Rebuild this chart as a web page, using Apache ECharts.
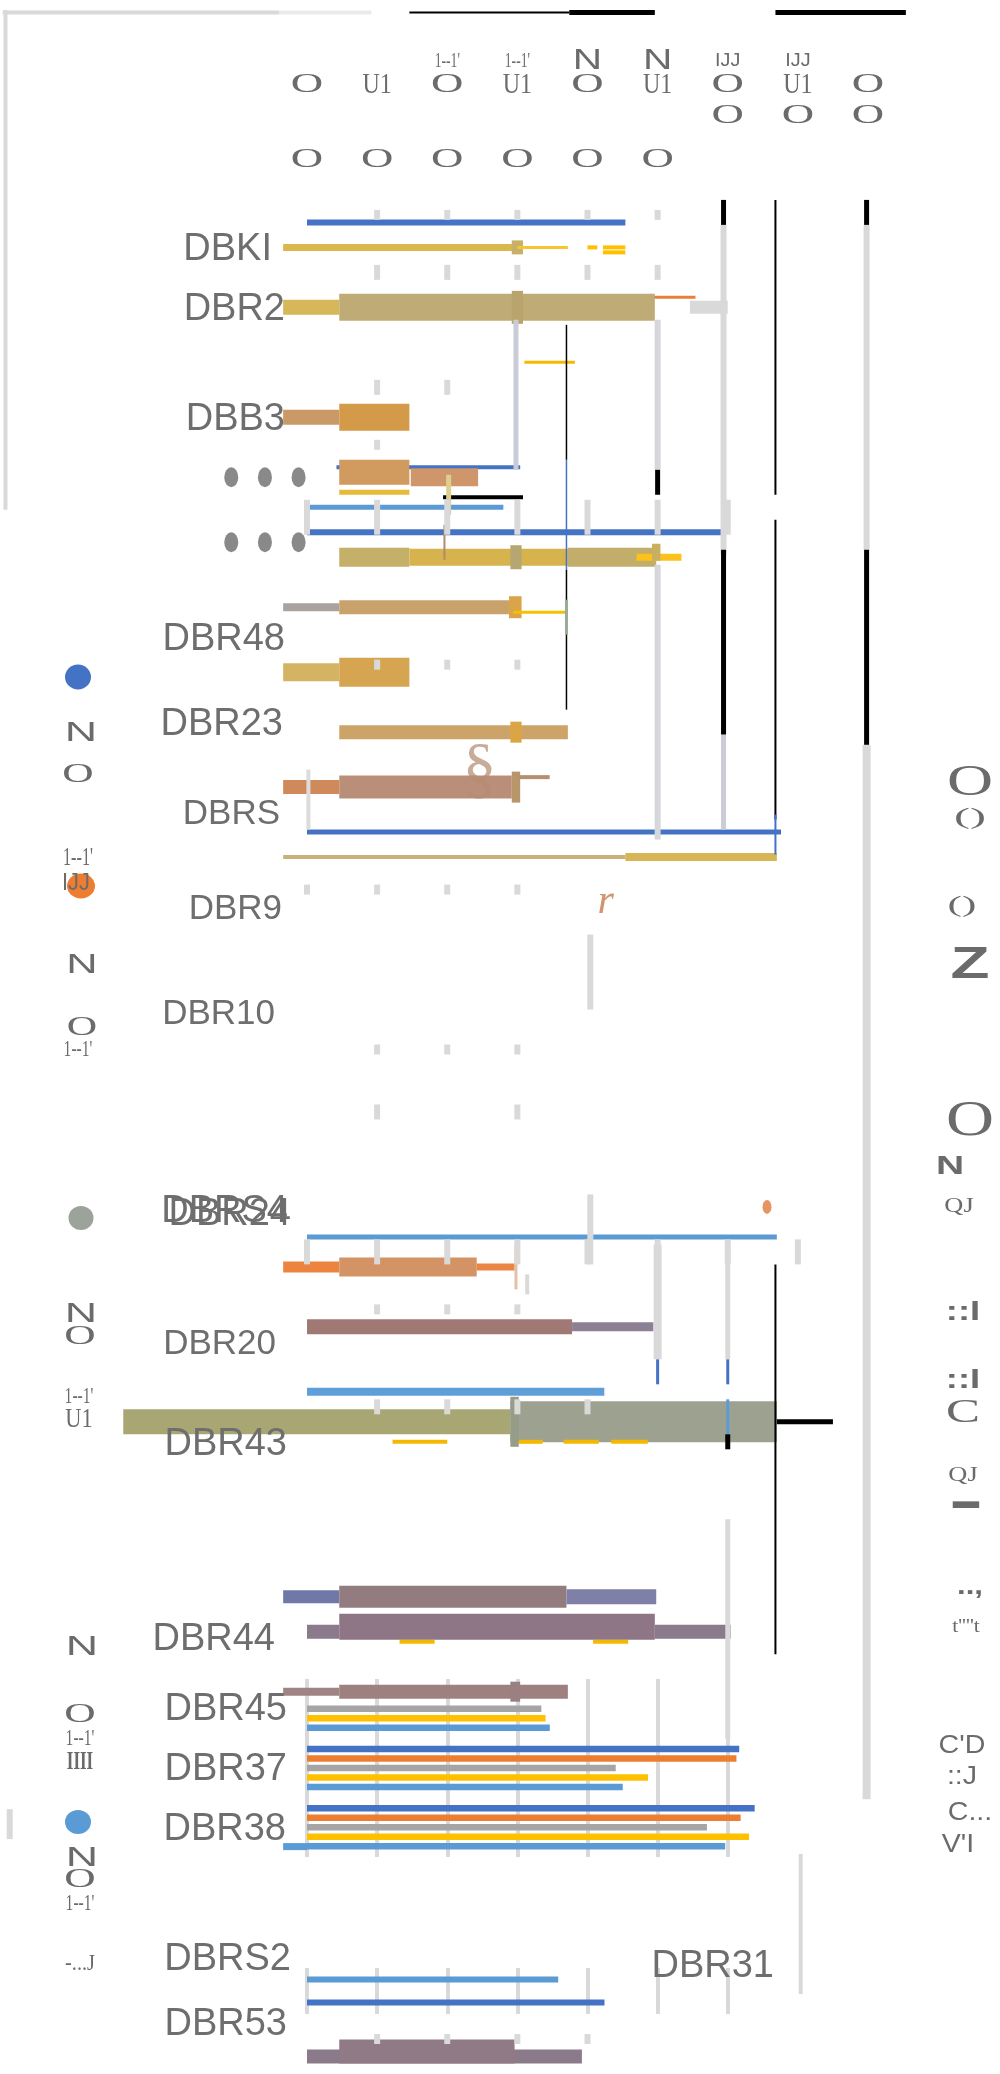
<!DOCTYPE html>
<html>
<head>
<meta charset="utf-8">
<script src="https://cdn.jsdelivr.net/npm/echarts@6/dist/echarts.min.js"></script>
<style>
  html, body { margin: 0; padding: 0; background: #fff; overflow: hidden; }
  #main { width: 1000px; height: 2074px; }
</style>
</head>
<body>
<div id="main"></div>
<script>
// ---- axis ticks along the top (value axis 0..400) ----
var ticks = [0, 50, 100, 150, 200, 250, 300, 350, 400];
var tickRowA = ['', '', "1--1'", "1--1'", 'N', 'N', 'IJJ', 'IJJ', ''];
var tickRowB = ['O', 'U1', 'O', 'U1', 'O', 'U1', 'O', 'U1', 'O'];
var tickRowC = ['', '', '', '', '', '', 'O', 'O', 'O'];
var tickRowD = ['O', 'O', 'O', 'O', 'O', 'O', '', '', ''];

// ---- row labels of the big chart (row = slot on the category axis) ----
var ROWS = 415;
var rowLabels = ['DBKI', 'DBR2', 'DBB3', 'DBR48', 'DBR23', 'DBRS', 'DBR9', 'DBR10', 'DBR24', 'DBR20', 'DBR43', 'DBR44', 'DBR45', 'DBR37', 'DBR38', 'DBRS2', 'DBR53'];
var labelRows = [49, 61, 83, 127, 144, 162, 181, 202, 242, 268, 288, 327, 341, 353, 365, 391, 404];
// how far each label sits left of the common edge (px), and its size
var labelNudge = [15, 2, 2, 2, 4, 7, 5, 12, -4, 11, 0, 12, 0, 0, 1, -4, 0];
var labelSize = [38, 38, 38, 38, 38, 35, 35, 35, 38, 35, 38, 38, 38, 38, 38, 38, 38];

// ---- spans: [row, from, to] in axis units ----
var spans = [
  [2, -217, -20], [2, -20, 46], [2, 73, 187], [2, 187, 248], [2, 334, 427],
  [44, 0, 227], [49, -17, 149], [49, 146, 154], [49, 150, 186], [49, 200, 207], [49, 211, 227], [50, 211, 227],
  [59, 245, 277], [61, -17, 23], [61, 23, 248], [61, 146, 154], [61, 273, 300], [72, 155, 191],
  [83, -17, 23], [83, 23, 73],
  [93, 21, 152], [94, 23, 73], [95, 74, 122], [98, 23, 73], [99, 97, 154], [101, 0, 140], [106, 0, 296],
  [111, 23, 73], [111, 73, 186], [111, 186, 249], [111, 145, 153], [111, 235, 267], [110, 246, 252],
  [121, -17, 23], [121, 23, 144], [121, 144, 153], [122, 147, 185],
  [134, -17, 23], [134, 23, 73],
  [146, 23, 186], [146, 145, 153],
  [157, -17, 23], [157, 23, 146], [157, 146, 152], [155, 151, 173],
  [166, 0, 338], [171, -17, 227], [171, 227, 335],
  [247, 0, 335], [253, -17, 23], [253, 23, 121], [253, 121, 148],
  [265, 0, 189], [265, 189, 247], [278, 0, 212],
  [284, -131, 145], [284, 145, 335], [284, 145, 151], [284, 335, 375],
  [288, 61, 100], [288, 151, 168], [288, 183, 208], [288, 217, 243],
  [319, -17, 23], [319, 23, 185], [319, 185, 249],
  [328, 66, 91], [328, 204, 229], [326, 0, 23], [326, 248, 302], [325, 23, 248],
  [338, -17, 23], [338, 23, 186], [338, 145, 152],
  [369, -17, 0],
  [411, 0, 196], [410, 23, 148]
];
// colour and thickness (px) for each span, same order
var spanLook = [
  ['#d9d9d9', 4], ['#ebebeb', 4], ['#000', 2], ['#000', 5], ['#000', 5],
  ['#4472c4', 6], ['#d9b84e', 7], ['#c8b068', 14], ['#f7c531', 3], ['#ffc000', 4], ['#ffc000', 4], ['#ffc000', 4],
  ['#e8803a', 3], ['#d6b85a', 15], ['#bfab76', 27], ['#b9a46d', 33], ['#d9d9d9', 13], ['#f5b800', 3],
  ['#c99a66', 15], ['#d39a4a', 27],
  ['#4472c4', 4], ['#d19a5e', 25], ['#cf956b', 18], ['#e9b93a', 5], ['#000', 4], ['#5b9bd5', 5], ['#4472c4', 6],
  ['#c4b068', 19], ['#d6b34c', 17], ['#c2ad6a', 19], ['#b5a672', 24], ['#fbc21b', 7], ['#c8b060', 17],
  ['#a8a39e', 8], ['#c8a26a', 14], ['#d9a44a', 22], ['#f5c000', 3],
  ['#d4b463', 18], ['#d6a552', 29],
  ['#cda468', 14], ['#dba545', 21],
  ['#d0895a', 14], ['#b98f7a', 23], ['#b9966a', 31], ['#b58f72', 4],
  ['#4472c4', 5], ['#c8b27a', 4], ['#d6b556', 8],
  ['#5b9bd5', 5], ['#ec8440', 11], ['#d49364', 19], ['#ea8544', 7],
  ['#a07874', 15], ['#8b8094', 9], ['#5f9fd8', 8],
  ['#a8a673', 25], ['#9ca28f', 41], ['#959c88', 50], ['#000', 5],
  ['#f5b800', 4], ['#f5b800', 4], ['#f5b800', 4], ['#f5b800', 4],
  ['#7078a8', 13], ['#937c80', 22], ['#7f80a8', 15],
  ['#f5b800', 4], ['#f5b800', 4], ['#8a7a8c', 14], ['#8a7a8c', 14], ['#8f7686', 26],
  ['#a08384', 8], ['#9f8081', 14], ['#9a8080', 20],
  ['#5b9bd5', 7],
  ['#8b7a8a', 14], ['#8f7a86', 24]
];

// ---- posts: [value, fromRow, toRow] vertical strokes ----
var posts = [
  [-215, 2, 101], [-212, 362, 367],
  [297, 40, 44], [399, 40, 44], [297, 45, 110], [399, 45, 109], [297, 110, 146], [399, 110, 149],
  [297, 147, 165], [399, 149, 359],
  [334, 40, 98], [334, 104, 163], [334, 163, 170], [334, 253, 330],
  [250, 64, 93], [250, 94, 98], [250, 113, 167], [149, 64, 93],
  [185, 65, 91], [185, 92, 113], [185, 114, 141],
  [101, 95, 102], [98, 105, 111], [185, 120, 126], [1, 154, 165],
  [202, 187, 201], [202, 239, 252], [149, 249, 257], [157, 255, 258],
  [250, 249, 271], [250, 272, 276], [300, 249, 271], [300, 272, 276], [300, 280, 286], [300, 287, 289], [300, 304, 347],
  [352, 371, 398]
];
var postLook = [
  ['#d9d9d9', 4], ['#d9d9d9', 6],
  ['#000', 5], ['#000', 5], ['#d9d9d9', 6], ['#d9d9d9', 6], ['#000', 5], ['#000', 5],
  ['#cbccd6', 5], ['#d9d9d9', 8],
  ['#000', 2], ['#000', 2], ['#4472c4', 2], ['#000', 2],
  ['#d5d7da', 6], ['#000', 5], ['#d5d7da', 6], ['#c9cbd6', 5],
  ['#000', 1.5], ['#4472c4', 1.5], ['#000', 1.5],
  ['#ddd08f', 5], ['#b08a6a', 2], ['#9aab9a', 3], ['#dcdcdc', 4],
  ['#d9d9d9', 6], ['#d9d9d9', 6], ['#e5c0a5', 3], ['#d9d9d9', 4],
  ['#d9d9d9', 8], ['#4472c4', 3], ['#d9d9d9', 5], ['#4472c4', 3], ['#5b9bd5', 3], ['#000', 5], ['#d9d9d9', 5],
  ['#d9d9d9', 4]
];

// ---- grid fragments: [value, fromRow, toRow] ----
var gridBits = [
  [50, 42, 43], [100, 42, 43], [150, 42, 43], [200, 42, 43], [250, 42, 43],
  [50, 53, 55], [100, 53, 55], [150, 53, 55], [200, 53, 55], [250, 53, 55],
  [50, 76, 78], [100, 76, 78], [50, 88, 89],
  [0, 100, 106], [50, 100, 106], [100, 100, 106], [150, 100, 106], [200, 100, 106], [250, 100, 106], [300, 100, 106],
  [50, 132, 133], [100, 132, 133], [150, 132, 133],
  [0, 177, 178], [50, 177, 178], [100, 177, 178], [150, 177, 178],
  [50, 209, 210], [100, 209, 210], [150, 209, 210], [50, 221, 223], [150, 221, 223],
  [0, 248, 252], [50, 248, 252], [100, 248, 252], [150, 248, 252], [200, 248, 252], [250, 248, 252], [300, 248, 252], [350, 248, 252],
  [50, 261, 262], [100, 261, 262], [150, 261, 262],
  [50, 280, 282], [100, 280, 282], [150, 280, 282], [200, 280, 282],
  [50, 407, 408], [100, 407, 408], [150, 407, 408], [200, 407, 408]
];

// ---- dots and stray glyphs ----
var dotXs = [-54, -30, -6];
var dotRows = [95, 108];
var strayText = ['\u00a7', 'r'];
var strayAt = [[123, 154], [213, 180]];
var orangeDot = [[328, 241]];

// ---- clustered bars ----
var clusterCats = ['DBR45', 'DBR37', 'DBR38'];
var q1 = [null, 308, 319];
var q2 = [null, 306, 309];
var q3 = [167, 220, 285];
var q4 = [170, 243, 315];
var q5 = [173, 225, 298];
var pairCats = ['DBRS2', 'DBR53'];
var pairVals = [179, 212];

var palette = ['#4472c4', '#ed7d31', '#a5a5a5', '#ffc000', '#5b9bd5'];

// ---- side glyphs (legend-ish text) ----
var legendDots = [['#4472c4', 78, 677, 13, 12.5], ['#ed7d31', 81, 886, 14, 12.5], ['#9ba39a', 81, 1218, 12.5, 12], ['#5b9bd5', 78, 1822, 13, 12]];
var leftText = [
  ['N', 81, 733, 'sans', 28, 1.6], ['O', 78, 775, 'serif', 28, 1.55], ["1--1'", 78, 858, 'serif', 25, 0.65],
  ['IJJ', 76, 884, 'sans', 23, 0.95], ['N', 82, 965, 'sans', 28, 1.55], ['O', 82, 1028, 'serif', 28, 1.5],
  ["1--1'", 78, 1050, 'serif', 24, 0.65], ['N', 81, 1314, 'sans', 28, 1.6], ['O', 80, 1337, 'serif', 28, 1.55],
  ["1--1'", 79, 1397, 'serif', 24, 0.65], ['U1', 79, 1420, 'serif', 28, 0.8], ['N', 82, 1647, 'sans', 28, 1.6],
  ['O', 80, 1715, 'serif', 28, 1.55], ["1--1'", 80, 1739, 'serif', 24, 0.65], ['IIII', 80, 1762, 'bold', 26, 0.65],
  ['N', 82, 1858, 'sans', 28, 1.6], ['O', 80, 1880, 'serif', 28, 1.55], ["1--1'", 80, 1904, 'serif', 24, 0.65],
  ['-...J', 80, 1964, 'serif', 24, 0.85]
];
var rightText = [
  ['O', 970, 783, 'serif', 44, 1.45], ['()', 970, 818, 'serif', 24, 2.0], ['()', 962, 906, 'serif', 24, 1.8],
  ['Z', 970, 966, 'sansb', 44, 1.45], ['O', 970, 1122, 'serif', 50, 1.33], ['N', 950, 1167, 'sansb', 26, 1.5],
  ['QJ', 959, 1206, 'serif', 22, 1.2], ['::I', 963, 1312, 'sansb', 28, 1.3], ['::I', 963, 1380, 'sansb', 28, 1.3],
  ['C', 963, 1413, 'serif', 34, 1.5], ['QJ', 963, 1475, 'serif', 22, 1.2], ['\u25ac', 966, 1502, 'sans', 22, 1.2],
  ['..,', 970, 1587, 'sansb', 26, 1.2], ["t''''t", 966, 1627, 'serif', 18, 1.2],
  ["C'D", 962, 1746, 'sans', 26, 1.1], ['::J', 962, 1777, 'sans', 26, 1.1], ['C...', 970, 1813, 'sans', 26, 1.1],
  ["V'I", 958, 1845, 'sans', 26, 1.1]
];

var GREY = '#6b6b6b';
var fam = {
  sans: '"Liberation Sans", Arial, sans-serif',
  sansb: 'bold "Liberation Sans", Arial, sans-serif',
  serif: '"Liberation Serif", "Times New Roman", serif',
  bold: 'bold "Liberation Serif", serif'
};

function fontOf(kind, size) {
  var f = fam[kind];
  if (f.indexOf('bold ') === 0) return 'bold ' + size + 'px ' + f.slice(5);
  return size + 'px ' + f;
}

var rowCats = [];
var labelAt = {};
for (var i = 0; i < ROWS; i++) rowCats.push('r' + i);
rowLabels.forEach(function (n, k) { labelAt[labelRows[k]] = k; });

var labelRich = {};
labelNudge.forEach(function (n, k) {
  labelRich['n' + k] = { fontSize: labelSize[k], fontFamily: fam.sans, color: '#6e6e6e', padding: [5, Math.max(0, 4 + n), 0, 0] };
});

function spanItem(params, api) {
  var look = spanLook[params.dataIndex];
  var a = api.coord([api.value(1), api.value(0)]);
  var b = api.coord([api.value(2), api.value(0)]);
  return {
    type: 'rect',
    shape: { x: a[0], y: a[1] - look[1] / 2, width: b[0] - a[0], height: look[1] },
    style: { fill: look[0] }
  };
}

function postMaker(lookup) {
  return function (params, api) {
    var look = lookup(params.dataIndex);
    var band = api.size([0, 1])[1];
    var a = api.coord([api.value(0), api.value(1)]);
    var b = api.coord([api.value(0), api.value(2)]);
    return {
      type: 'rect',
      shape: { x: a[0] - look[1] / 2, y: a[1] - band / 2, width: look[1], height: b[1] - a[1] + band },
      style: { fill: look[0] }
    };
  };
}

var dots = [];
dotRows.forEach(function (r) { dotXs.forEach(function (x) { dots.push([x, r]); }); });

var labelFont = { fontSize: 38, fontFamily: fam.sans, color: '#6e6e6e' };
var hiddenAxis = { axisLine: { show: false }, axisTick: { show: false }, axisLabel: { show: false } };

var options = {
  animation: false,
  backgroundColor: '#fff',
  grid: [
    { left: 307, width: 561, top: 0, height: 2074, outerBoundsMode: 'none', containLabel: false },
    { left: 307, width: 421, top: 1679, height: 178, outerBoundsMode: 'none', containLabel: false },
    { left: 307, width: 421, top: 1968, height: 46, outerBoundsMode: 'none', containLabel: false }
  ],
  xAxis: [
    { gridIndex: 0, type: 'value', min: 0, max: 400, show: false },
    Object.assign({ gridIndex: 1, type: 'value', min: 0, max: 300, interval: 50,
      splitLine: { show: true, lineStyle: { color: '#d9d9d9', width: 4 } } }, hiddenAxis),
    Object.assign({ gridIndex: 2, type: 'value', min: 0, max: 300, interval: 50,
      splitLine: { show: true, lineStyle: { color: '#d9d9d9', width: 4 } } }, hiddenAxis)
  ],
  yAxis: [
    { gridIndex: 0, type: 'category', data: rowCats, inverse: true, position: 'left', z: 20,
      axisLine: { show: false }, axisTick: { show: false },
      axisLabel: Object.assign({ interval: 0, margin: 16, rich: labelRich,
        formatter: function (v, idx) {
          var k = labelAt[idx];
          return k === undefined ? '' : '{n' + k + '|' + rowLabels[k] + '}';
        } }, labelFont) },
    { gridIndex: 0, type: 'category', data: rowCats, inverse: true, position: 'left', offset: 3, z: 19,
      axisLine: { show: false }, axisTick: { show: false },
      axisLabel: Object.assign({ interval: 0, margin: 16, padding: [1, 0, 0, 0],
        formatter: function (v, idx) { return idx === 242 ? 'DBRS4' : ''; } }, labelFont) },
    { gridIndex: 0, type: 'category', data: rowCats, inverse: true, position: 'right', z: 20,
      axisLine: { show: false }, axisTick: { show: false },
      axisLabel: Object.assign({ interval: 0, inside: true, margin: 94, padding: [5, 0, 0, 0],
        formatter: function (v, idx) { return idx === 393 ? 'DBR31' : ''; } }, labelFont) },
    { gridIndex: 1, type: 'category', data: clusterCats, inverse: true, show: false },
    { gridIndex: 2, type: 'category', data: pairCats, inverse: true, show: false }
  ],
  series: [
    { type: 'custom', name: 'spans', xAxisIndex: 0, yAxisIndex: 0, z: 2, silent: true, clip: false,
      encode: { x: [1, 2], y: 0 }, data: spans, renderItem: spanItem },
    { type: 'custom', name: 'posts', xAxisIndex: 0, yAxisIndex: 0, z: 3, silent: true, clip: false,
      encode: { x: 0, y: [1, 2] }, data: posts, renderItem: postMaker(function (i) { return postLook[i]; }) },
    { type: 'custom', name: 'grid bits', xAxisIndex: 0, yAxisIndex: 0, z: 4, silent: true, clip: false,
      encode: { x: 0, y: [1, 2] }, data: gridBits, renderItem: postMaker(function () { return ['#d9d9d9', 6]; }) },
    { type: 'scatter', name: 'dots', xAxisIndex: 0, yAxisIndex: 0, z: 5, silent: true, clip: false,
      symbol: 'circle', symbolSize: [14, 20], itemStyle: { color: GREY }, data: dots },
    { type: 'scatter', name: 'spot', xAxisIndex: 0, yAxisIndex: 0, z: 5, silent: true, clip: false,
      symbol: 'circle', symbolSize: [9, 14], itemStyle: { color: '#e07b3b' }, data: orangeDot },
    { type: 'scatter', name: 'stray', xAxisIndex: 0, yAxisIndex: 0, z: 6, silent: true, clip: false,
      symbol: 'circle', symbolSize: 1, itemStyle: { color: 'rgba(255,255,255,0)' },
      data: strayAt.map(function (p, k) {
        return k === 0
          ? { name: strayText[k], value: p, label: { fontSize: 68, color: 'rgba(180,140,112,0.9)' } }
          : { name: strayText[k], value: p, label: { fontSize: 42, fontStyle: 'italic', color: '#c47a4a' } };
      }),
      label: { show: true, position: 'inside', formatter: '{b}', fontFamily: fam.serif } },
    { type: 'bar', name: 'Q1', xAxisIndex: 1, yAxisIndex: 3, barWidth: 6.5, barGap: '46%', clip: false, itemStyle: { color: palette[0] }, data: q1 },
    { type: 'bar', name: 'Q2', xAxisIndex: 1, yAxisIndex: 3, barWidth: 6.5, barGap: '46%', clip: false, itemStyle: { color: palette[1] }, data: q2 },
    { type: 'bar', name: 'Q3', xAxisIndex: 1, yAxisIndex: 3, barWidth: 6.5, barGap: '46%', clip: false, itemStyle: { color: palette[2] }, data: q3 },
    { type: 'bar', name: 'Q4', xAxisIndex: 1, yAxisIndex: 3, barWidth: 6.5, barGap: '46%', clip: false, itemStyle: { color: palette[3] }, data: q4 },
    { type: 'bar', name: 'Q5', xAxisIndex: 1, yAxisIndex: 3, barWidth: 6.5, barGap: '46%', clip: false, itemStyle: { color: palette[4] }, data: q5 },
    { type: 'bar', name: 'pair', xAxisIndex: 2, yAxisIndex: 4, barWidth: 6, clip: false,
      data: pairVals.map(function (v, k) { return { value: v, itemStyle: { color: [palette[4], palette[0]][k] } }; }) }
  ]
};

var chart = echarts.init(document.getElementById('main'), null, { renderer: 'canvas' });
chart.setOption(options);

function glyph(text, x, y, kind, size, sx) {
  return {
    type: 'text', x: x, y: y, scaleX: sx, scaleY: 1, z: 10, silent: true,
    style: { text: text, font: fontOf(kind, size), fill: GREY, align: 'center', verticalAlign: 'middle' }
  };
}

var tickFonts = {
  'O': ['serif', 28, 1.6], 'U1': ['serif', 30, 0.8], "1--1'": ['serif', 22, 0.62],
  'N': ['sans', 29, 1.4], 'IJJ': ['sans', 18, 1.1]
};
var rowYs = [61, 85, 116, 160];
var g = [];
ticks.forEach(function (v, k) {
  var px = chart.convertToPixel({ xAxisIndex: 0 }, v);
  [tickRowA[k], tickRowB[k], tickRowC[k], tickRowD[k]].forEach(function (t, r) {
    if (!t) return;
    var f = tickFonts[t];
    g.push(glyph(t, px, rowYs[r], f[0], f[1], f[2]));
  });
});
legendDots.forEach(function (d) {
  g.push({ type: 'circle', x: d[1], y: d[2], scaleX: d[3] / d[4], z: 9, silent: true,
    shape: { cx: 0, cy: 0, r: d[4] }, style: { fill: d[0] } });
});
leftText.concat(rightText).forEach(function (t) {
  g.push(glyph(t[0], t[1], t[2], t[3], t[4], t[5]));
});
chart.setOption({ graphic: g });
</script>
</body>
</html>
